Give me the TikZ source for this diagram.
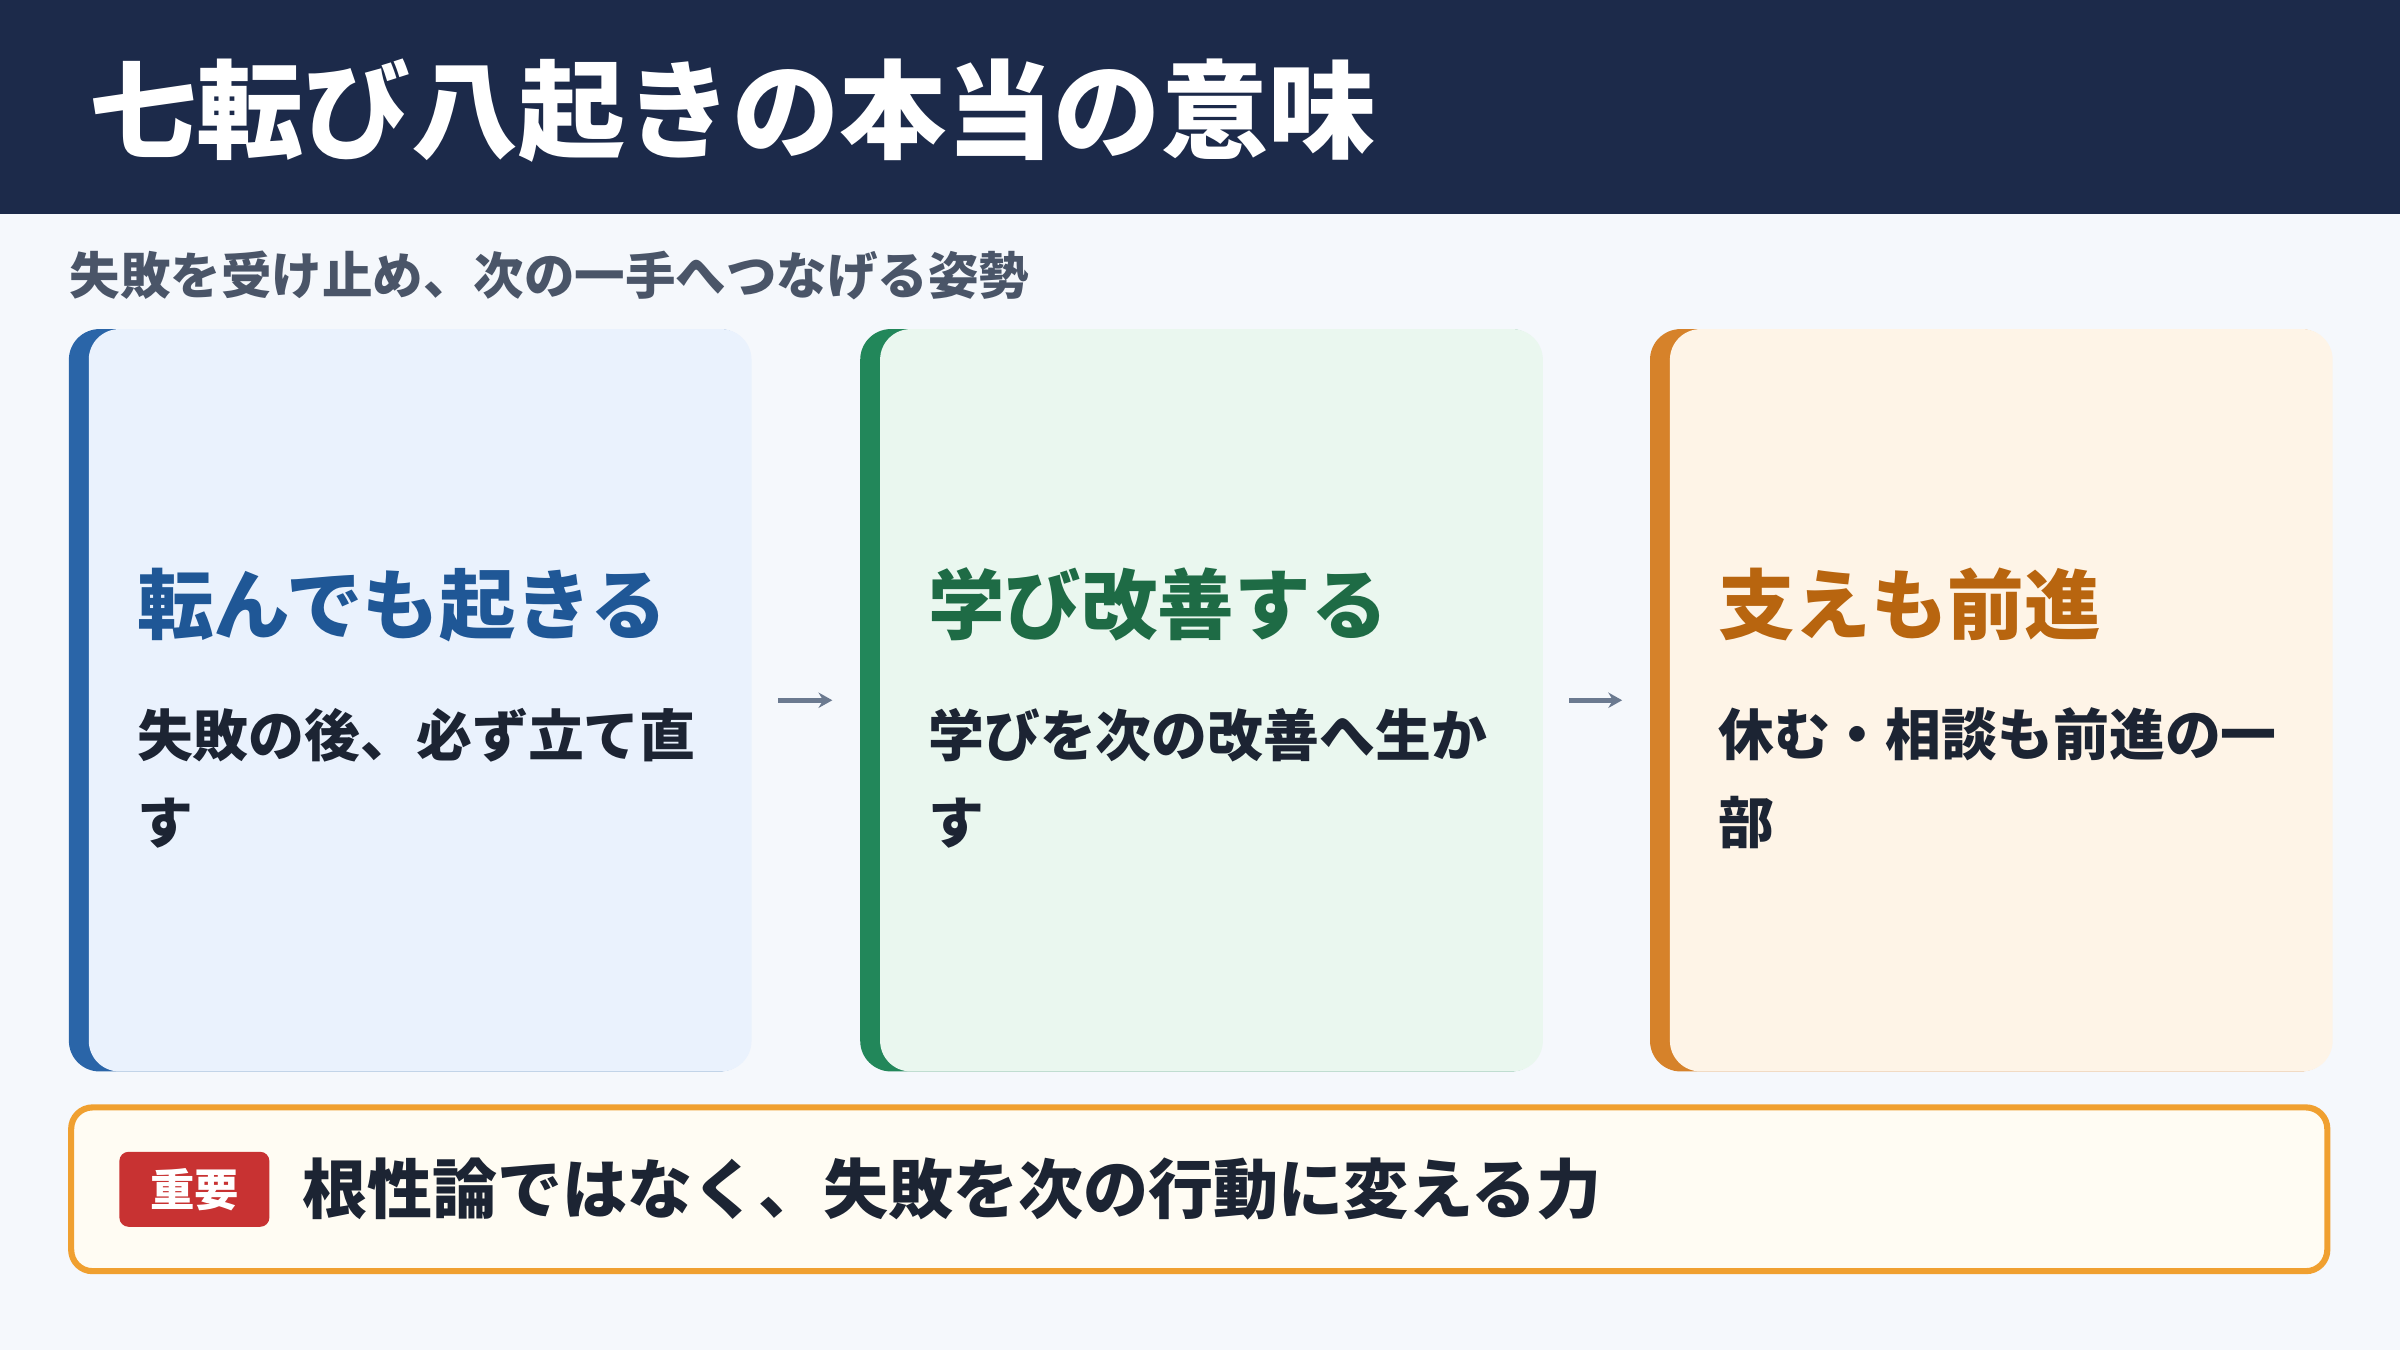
\documentclass[tikz,border=0pt]{standalone}
\usepackage{fontspec}
\setmainfont{Noto Sans CJK JP}
\usetikzlibrary{positioning,arrows.meta}
\definecolor{navy}{HTML}{1C2A4A}
\definecolor{bgc}{HTML}{F5F8FC}
\definecolor{blueA}{HTML}{2A65A8}\definecolor{blueL}{HTML}{EAF2FD}\definecolor{blueT}{HTML}{1F5796}
\definecolor{greenA}{HTML}{22875A}\definecolor{greenL}{HTML}{EAF7EF}\definecolor{greenT}{HTML}{1E6B45}
\definecolor{orA}{HTML}{D6822A}\definecolor{orL}{HTML}{FEF4E7}\definecolor{orT}{HTML}{B8650F}
\definecolor{ink}{HTML}{1C2433}
\definecolor{subg}{HTML}{4A5568}
\definecolor{arrg}{HTML}{6B7A90}
\definecolor{noteO}{HTML}{F0A030}
\definecolor{noteL}{HTML}{FFFCF3}
\definecolor{badgeR}{HTML}{C83232}
\begin{document}
\begin{tikzpicture}[x=1pt,y=-1pt,
    card/.style={rectangle,rounded corners=20pt,minimum width=445pt,minimum height=485pt,inner sep=0pt},
    cardin/.style={rectangle,rounded corners=20pt,minimum width=433pt,minimum height=485pt,inner sep=0pt},
    head/.style={anchor=west,font=\fontsize{50}{54}\selectfont\bfseries},
    body/.style={anchor=north west,align=left,text=ink,font=\fontsize{36.5}{57}\selectfont\bfseries},
    arr/.style={-{Stealth[length=9pt,width=10pt]},line width=3pt,draw=arrg}]
    \useasboundingbox (0,0) rectangle (1568,882);
    \fill[bgc] (0,0) rectangle (1568,882);
    \fill[navy] (0,0) rectangle (1568,140);
    \node[anchor=west,text=white,font=\fontsize{70}{76}\selectfont\bfseries] (title) at (55,72) {七転び八起きの本当の意味};
    \node[anchor=west,text=subg,font=\fontsize{33}{36}\selectfont\bfseries] (sub) at (42,180) {失敗を受け止め、次の一手へつなげる姿勢};

    \node[card,fill=blueA] (c1) at (267.5,457.5) {};
    \node[cardin,fill=blueL] (c1in) at (274.5,457.5) {};
    \node[head,text=blueT] (h1) at (86,395) {転んでも起きる};
    \node[body] (b1) at (86,459) {失敗の後、必ず立て直\\す};

    \node[card,fill=greenA] (c2) at (784.5,457.5) {};
    \node[cardin,fill=greenL] (c2in) at (791.5,457.5) {};
    \node[head,text=greenT] (h2) at (603,395) {学び改善する};
    \node[body] (b2) at (603,459) {学びを次の改善へ生か\\す};

    \node[card,fill=orA] (c3) at (1300.5,457.5) {};
    \node[cardin,fill=orL] (c3in) at (1307.5,457.5) {};
    \node[head,text=orT] (h3) at (1119,395) {支えも前進};
    \node[body] (b3) at (1119,459) {休む・相談も前進の一\\部};

    \draw[arr] ([xshift=18pt]c1.east) -- ([xshift=-18pt]c2.west);
    \draw[arr] ([xshift=18pt]c2.east) -- ([xshift=-18pt]c3.west);

    \node[rectangle,rounded corners=14pt,draw=noteO,line width=4pt,fill=noteL,
          minimum width=1474pt,minimum height=107pt] (note) at (783.5,777) {};
    \node[rectangle,rounded corners=6pt,fill=badgeR,minimum width=98pt,minimum height=49pt,
          text=white,font=\fontsize{29}{31}\selectfont\bfseries] (badge) at (127,777) {重要};
    \node[anchor=west,text=ink,font=\fontsize{42.5}{46}\selectfont\bfseries,right=18pt of badge] (msg) {根性論ではなく、失敗を次の行動に変える力};
\end{tikzpicture}
\end{document}
